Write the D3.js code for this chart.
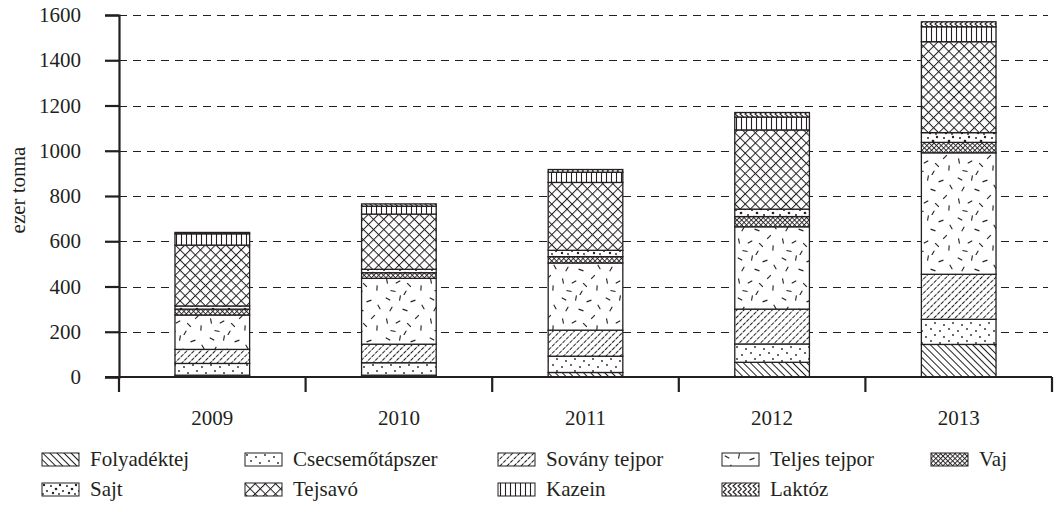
<!DOCTYPE html>
<html>
<head>
<meta charset="utf-8">
<script src="https://cdn.jsdelivr.net/npm/d3@7"></script>
<style>
  body { margin: 0; background: #fff; }
  svg { display: block; }
  svg text { font-family: "Liberation Serif", "DejaVu Serif", serif !important; font-size: 21px; fill: #231f20; }
</style>
</head>
<body>
<svg id="chart" width="1057" height="512"></svg>
<script>
// Chart data (ezer tonna)
const years = ["2009", "2010", "2011", "2012", "2013"];
const seriesNames = ["Folyadéktej", "Csecsemőtápszer", "Sovány tejpor", "Teljes tejpor", "Vaj", "Sajt", "Tejsavó", "Kazein", "Laktóz"];
const folyadektej = [8, 8, 20, 65, 144];
const csecsemotapszer = [52, 55, 72, 81, 111];
const sovanyTejpor = [62, 82, 115, 154, 199];
const teljesTejpor = [152, 291, 297, 364, 537];
const vaj = [26, 25, 28, 45, 46];
const sajt = [14, 15, 28, 33, 43];
const tejsavo = [269, 244, 300, 350, 402];
const kazein = [50, 35, 45, 57, 66];
const laktoz = [6, 10, 12, 20, 22];
const yTicks = [0, 200, 400, 600, 800, 1000, 1200, 1400, 1600];

const seriesValues = [folyadektej, csecsemotapszer, sovanyTejpor, teljesTejpor, vaj, sajt, tejsavo, kazein, laktoz];
const patternIds = ["p-folyadek", "p-csecsemo", "p-sovany", "p-teljes", "p-vaj", "p-sajt", "p-tejsavo", "p-kazein", "p-laktoz"];

const ink = "#231f20";
const margin = {top: 15, right: 5, bottom: 135, left: 119};
const width = 1052 - margin.left;
const height = 377 - margin.top;

const svg = d3.select("#chart");

// ---- fill patterns (black & white hatching like the print original)
const defs = svg.append("defs");

function linePattern(id, w, h, rot, lines, sw, dash) {
    const p = defs.append("pattern")
        .attr("id", id)
        .attr("patternUnits", "userSpaceOnUse")
        .attr("width", w).attr("height", h);
    if (rot) p.attr("patternTransform", "rotate(" + rot + ")");
    p.append("rect").attr("width", w).attr("height", h).attr("fill", "#fff");
    lines.forEach(l => {
        const ln = p.append("line")
            .attr("x1", l[0]).attr("y1", l[1]).attr("x2", l[2]).attr("y2", l[3])
            .attr("stroke", ink).attr("stroke-width", sw);
        if (dash) ln.attr("stroke-dasharray", dash);
    });
    return p;
}

function dotPattern(id, w, h, dots) {
    const p = defs.append("pattern")
        .attr("id", id)
        .attr("patternUnits", "userSpaceOnUse")
        .attr("width", w).attr("height", h);
    p.append("rect").attr("width", w).attr("height", h).attr("fill", "#fff");
    dots.forEach(d => p.append("circle").attr("cx", d[0]).attr("cy", d[1]).attr("r", d[2]).attr("fill", ink));
    return p;
}

// Folyadéktej: "\\\" hatching
linePattern("p-folyadek", 5, 5, -45, [[0.5, 0, 0.5, 5]], 1);
// Csecsemőtápszer: sparse small dots
dotPattern("p-csecsemo", 18, 12, [[2, 2, 0.9], [11, 4, 0.9], [6, 8, 0.9], [15, 10, 0.9]]);
// Sovány tejpor: broken "///" hatching
linePattern("p-sovany", 5, 5, 45, [[0.5, 0, 0.5, 5]], 1, "3.2,1.2");
// Teljes tejpor: scattered short strokes
(function() {
    const p = defs.append("pattern")
        .attr("id", "p-teljes")
        .attr("patternUnits", "userSpaceOnUse")
        .attr("width", 44).attr("height", 40);
    p.append("rect").attr("width", 44).attr("height", 40).attr("fill", "#fff");
    const strokes = [[5, 4, 30], [17, 3, 100], [30, 6, 160], [40, 12, 60], [8, 14, 120],
                     [22, 15, 20], [34, 22, 135], [4, 26, 80], [15, 27, 150], [26, 30, 45],
                     [38, 33, 95], [10, 36, 10], [22, 38, 120]];
    strokes.forEach(s => {
        const a = s[2] * Math.PI / 180, r = 2.6;
        p.append("line")
            .attr("x1", s[0] - r * Math.cos(a)).attr("y1", s[1] - r * Math.sin(a))
            .attr("x2", s[0] + r * Math.cos(a)).attr("y2", s[1] + r * Math.sin(a))
            .attr("stroke", ink).attr("stroke-width", 1.1);
    });
})();
// Vaj: dense fine crosshatch
linePattern("p-vaj", 3.4, 3.4, 45, [[0.5, 0, 0.5, 3.4], [0, 0.5, 3.4, 0.5]], 0.9);
// Sajt: denser, bolder dots
dotPattern("p-sajt", 16, 12, [[2, 2, 1.2], [9, 3, 1], [14, 6, 1.3], [5, 8, 1], [11, 10, 1.2], [1, 11, 0.9]]);
// Tejsavó: large diamond crosshatch
linePattern("p-tejsavo", 7.2, 7.2, 45, [[0.5, 0, 0.5, 7.2], [0, 0.5, 7.2, 0.5]], 1);
// Kazein: vertical lines
linePattern("p-kazein", 5, 5, 0, [[2.5, 0, 2.5, 5]], 1.1);
// Laktóz: zigzag
(function() {
    const p = defs.append("pattern")
        .attr("id", "p-laktoz")
        .attr("patternUnits", "userSpaceOnUse")
        .attr("width", 5).attr("height", 6);
    p.append("rect").attr("width", 5).attr("height", 6).attr("fill", "#fff");
    p.append("path").attr("d", "M4.5,0 L1,3 L4.5,6")
        .attr("fill", "none").attr("stroke", ink).attr("stroke-width", 1.1);
})();

// ---- scales
const x = d3.scaleBand()
    .domain(years)
    .range([0, width])
    .paddingInner(0.6)
    .paddingOuter(0.3);

const y = d3.scaleLinear()
    .domain([0, 1600])
    .range([height, 0]);

const g = svg.append("g")
    .attr("transform", "translate(" + margin.left + "," + margin.top + ")");

// dashed gridlines
g.append("g")
    .selectAll("line")
    .data(yTicks.filter(t => t > 0))
    .enter()
    .append("line")
        .attr("x1", 0).attr("x2", width - 4)
        .attr("y1", d => Math.round(y(d)) + 0.5).attr("y2", d => Math.round(y(d)) + 0.5)
        .attr("stroke", ink).attr("stroke-width", 1)
        .attr("stroke-dasharray", "8,6");

// stacked data
const table = years.map((yr, i) => {
    const row = {year: yr};
    seriesNames.forEach((s, j) => { row[s] = seriesValues[j][i]; });
    return row;
});
const stacked = d3.stack().keys(seriesNames)(table);

g.selectAll(".layer")
    .data(stacked)
    .enter()
    .append("g")
        .attr("class", "layer")
        .attr("fill", (d, i) => "url(#" + patternIds[i] + ")")
    .selectAll("rect")
    .data(d => d)
    .enter()
    .append("rect")
        .attr("x", d => x(d.data.year))
        .attr("y", d => y(d[1]))
        .attr("width", x.bandwidth())
        .attr("height", d => Math.max(y(d[0]) - y(d[1]), 0))
        .attr("stroke", ink)
        .attr("stroke-width", 1.3);

// y axis
const yAxis = g.append("g")
    .call(d3.axisLeft(y).tickValues(yTicks).tickSize(14).tickPadding(24).tickFormat(d3.format("d")));
yAxis.attr("font-family", null).attr("font-size", null);
yAxis.select(".domain").attr("stroke", ink).attr("stroke-width", 2.2);
yAxis.selectAll(".tick line").attr("stroke", ink).attr("stroke-width", 2.2);
yAxis.selectAll(".tick text").attr("fill", ink);

// x axis: ticks sit on band boundaries, labels centred under bars
const xAxisG = g.append("g").attr("transform", "translate(0," + height + ")");
xAxisG.append("line")
    .attr("x1", -14).attr("x2", width)
    .attr("stroke", ink).attr("stroke-width", 2.2);
const step = x.step();
xAxisG.selectAll(".xtick")
    .data(d3.range(years.length + 1))
    .enter()
    .append("line")
        .attr("class", "xtick")
        .attr("x1", i => i * step).attr("x2", i => i * step)
        .attr("y1", 0).attr("y2", 15)
        .attr("stroke", ink).attr("stroke-width", 2.2);
xAxisG.selectAll(".xlabel")
    .data(years)
    .enter()
    .append("text")
        .attr("class", "xlabel")
        .attr("x", d => x(d) + x.bandwidth() / 2)
        .attr("y", 48)
        .attr("text-anchor", "middle")
        .text(d => d);

// y axis title
svg.append("text")
    .attr("transform", "translate(25,190) rotate(-90)")
    .attr("text-anchor", "middle")
    .text("ezer tonna");

// legend
const legendCols = [42, 245, 498, 722, 931];
const legendRows = [453, 483];
const legend = svg.append("g");
seriesNames.forEach((name, i) => {
    const col = i % 5, row = Math.floor(i / 5);
    const item = legend.append("g")
        .attr("transform", "translate(" + legendCols[col] + "," + legendRows[row] + ")");
    item.append("rect")
        .attr("width", 37).attr("height", 13)
        .attr("fill", "url(#" + patternIds[i] + ")")
        .attr("stroke", ink).attr("stroke-width", 1);
    item.append("text")
        .attr("x", 48).attr("y", 13)
        .text(name);
});
</script>
</body>
</html>
